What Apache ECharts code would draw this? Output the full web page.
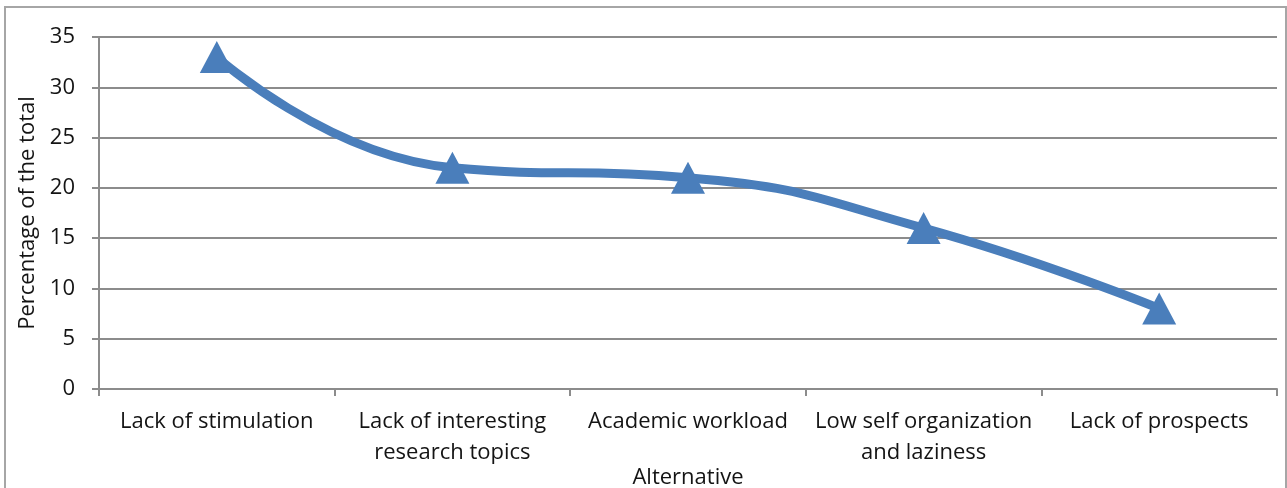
<!DOCTYPE html>
<html>
<head>
<meta charset="utf-8">
<script src="https://cdn.jsdelivr.net/npm/echarts@6/dist/echarts.min.js"></script>
<style>
  html, body { margin: 0; padding: 0; background: #fff; }
  #chart { width: 1287px; height: 488px; }
</style>
</head>
<body>
<div id="chart"></div>
<script>
// Reasons given, share of respondents (%)
const categories = [
  'Lack of stimulation',
  'Lack of interesting\nresearch topics',
  'Academic workload',
  'Low self organization\nand laziness',
  'Lack of prospects'
];
const percentages = [33, 22, 21, 16, 8];
const yTicks = { min: 0, max: 35, interval: 5 };

const FONT = 'Open Sans';
const FS = 22;
const TEXT = '#141414';
const GRID_GRAY = '#8c8c8c';
const LINE_BLUE = '#4a7ebb';

const chart = echarts.init(document.getElementById('chart'), null, { renderer: 'canvas' });
chart.setOption({
  backgroundColor: '#ffffff',
  animation: false,
  textStyle: { fontFamily: FONT },
  graphic: [{
    type: 'rect',
    shape: { x: 5, y: 7, width: 1281, height: 490 },
    style: { fill: 'none', stroke: '#a6a6a6', lineWidth: 2 },
    silent: true
  }],
  grid: { left: 99, right: 10, top: 37, bottom: 99, containLabel: false, outerBoundsMode: 'none' },
  xAxis: {
    type: 'category',
    data: categories,
    boundaryGap: true,
    name: 'Alternative',
    nameLocation: 'middle',
    nameGap: 89,
    nameMoveOverlap: false,
    nameTextStyle: { fontFamily: FONT, fontSize: FS, color: TEXT, verticalAlign: 'middle' },
    axisLine: { lineStyle: { color: GRID_GRAY, width: 2 } },
    axisTick: { show: true, length: 7, lineStyle: { color: GRID_GRAY, width: 2 } },
    axisLabel: {
      fontFamily: FONT, fontSize: FS, color: TEXT,
      margin: 17, lineHeight: 31, interval: 0
    }
  },
  yAxis: {
    type: 'value',
    min: yTicks.min, max: yTicks.max, interval: yTicks.interval,
    name: 'Percentage of the total',
    nameLocation: 'middle',
    nameGap: 60,
    nameRotate: 90,
    nameMoveOverlap: false,
    nameTextStyle: { fontFamily: FONT, fontSize: FS, color: TEXT },
    axisLine: { show: true, lineStyle: { color: GRID_GRAY, width: 2 } },
    axisTick: { show: true, length: 7, lineStyle: { color: GRID_GRAY, width: 2 } },
    axisLabel: { fontFamily: FONT, fontSize: FS, color: TEXT, margin: 24 },
    splitLine: { show: true, lineStyle: { color: GRID_GRAY, width: 2 } }
  },
  series: [{
    type: 'line',
    data: percentages,
    smooth: 0.5,
    symbol: 'triangle',
    symbolSize: [34, 32],
    itemStyle: { color: LINE_BLUE },
    lineStyle: { color: LINE_BLUE, width: 9 }
  }]
});
</script>
</body>
</html>
